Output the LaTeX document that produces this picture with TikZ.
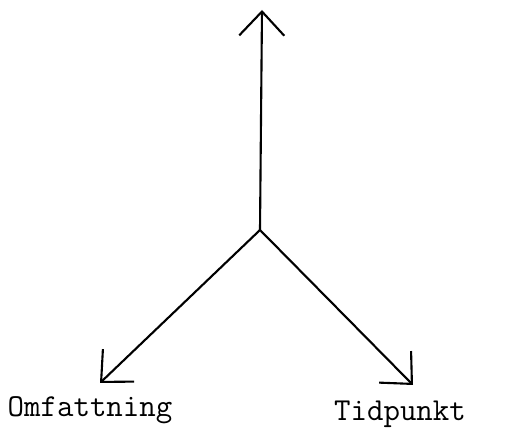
\documentclass[tikz,border=0pt]{standalone}
\usepackage{tikz}
\usetikzlibrary{arrows.meta, positioning, calc}

\begin{document}
\begin{tikzpicture}[
    axis/.style={line width=1.2pt, -{Straight Barb[length=4.8mm, width=9mm, line width=1.2pt]}},
    label/.style={font=\ttfamily\fontsize{18.2}{21}\selectfont, inner sep=0pt}
]
\useasboundingbox (0,0) rectangle (10.1,-8.58);

\coordinate (origo) at (5.2,-4.6);
\coordinate (upp) at (5.24,-0.2);
\coordinate (vanster) at (2.0,-7.66);
\coordinate (hoger) at (8.26,-7.7);

\node (omf) [label] at (1.8,-8.2) {Omfattning};
\node (tid) [label] at (8.0,-8.28) {Tidpunkt};

\draw [axis] (origo) -- (upp);
\draw [axis] (origo) -- (vanster);
\draw [axis] (origo) -- (hoger);

\end{tikzpicture}
\end{document}
